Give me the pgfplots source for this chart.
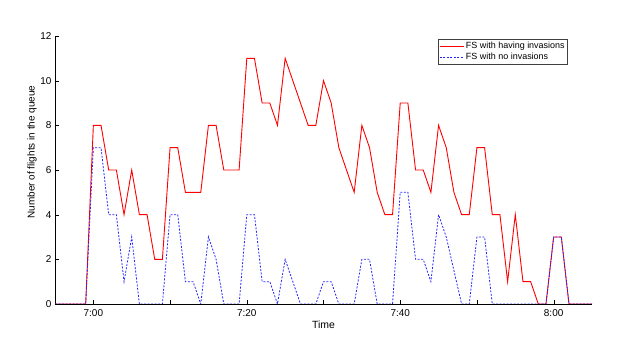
\documentclass[border=0pt]{standalone}
\usepackage{fontspec}
\setmainfont{Liberation Sans}
\usepackage{pgfplots}
\pgfplotsset{compat=1.18}

% queue length per minute, x = minutes after 7:00
\pgfplotstableread{
t  inv  noinv
-5 0 0
-4 0 0
-3 0 0
-2 0 0
-1 0 0
0  8 7
1  8 7
2  6 4
3  6 4
4  4 1
5  6 3
6  4 0
7  4 0
8  2 0
9  2 0
10 7 4
11 7 4
12 5 1
13 5 1
14 5 0
15 8 3
16 8 2
17 6 0
18 6 0
19 6 0
20 11 4
21 11 4
22 9 1
23 9 1
24 8 0
25 11 2
26 10 1
27 9 0
28 8 0
29 8 0
30 10 1
31 9 1
32 7 0
33 6 0
34 5 0
35 8 2
36 7 2
37 5 0
38 4 0
39 4 0
40 9 5
41 9 5
42 6 2
43 6 2
44 5 1
45 8 4
46 7 3
47 5 1.5
48 4 0
49 4 0
50 7 3
51 7 3
52 4 0
53 4 0
54 1 0
55 4 0
56 1 0
57 1 0
58 0 0
59 0 0
60 3 3
61 3 3
62 0 0
63 0 0
64 0 0
65 0 0
}\queuedata

\begin{document}
\begin{tikzpicture}
\begin{axis}[
  scale only axis,
  width=537bp, height=268bp,
  xmin=-5, xmax=65, ymin=0, ymax=12,
  axis lines=left,
  axis line style={-, black},
  tick align=inside,
  major tick length=4bp,
  tick style={black},
  xtick={0,10,20,30,40,50,60},
  xticklabels={7:00,,7:20,,7:40,,8:00},
  ytick={0,2,4,6,8,10,12},
  tick label style={font=\fontsize{10}{12}\selectfont, /pgf/number format/assume math mode=true},
  xticklabel style={yshift=-2bp},
  xlabel={Time},
  xlabel style={font=\fontsize{10.5}{12}\selectfont, at={(axis description cs:0.5,0)}, anchor=base, yshift=-24bp},
  ylabel={Number of flights in the queue},
  ylabel style={font=\fontsize{10}{12}\selectfont, at={(axis description cs:-0.0428,0.567)}, anchor=center},
  legend style={at={(rel axis cs:0.955,0.989)}, anchor=north east, draw=black!75,
    font=\fontsize{9}{10}\selectfont, inner sep=1bp, row sep=-1bp, cells={anchor=west}},
  legend image code/.code={\draw[#1] (0bp,0bp) -- (24bp,0bp);},
]
\addplot[red, line width=0.9bp] table[x=t, y=inv] {\queuedata};
\addplot[blue!85, line width=0.8bp, dash pattern=on 2bp off 1.5bp] table[x=t, y=noinv] {\queuedata};
\legend{FS with having invasions, FS with no invasions}
\end{axis}
\pgfresetboundingbox
\path (current axis.south west) ++(-55bp,-39bp) rectangle ([shift={(34bp,36bp)}]current axis.north east);
\end{tikzpicture}
\end{document}
